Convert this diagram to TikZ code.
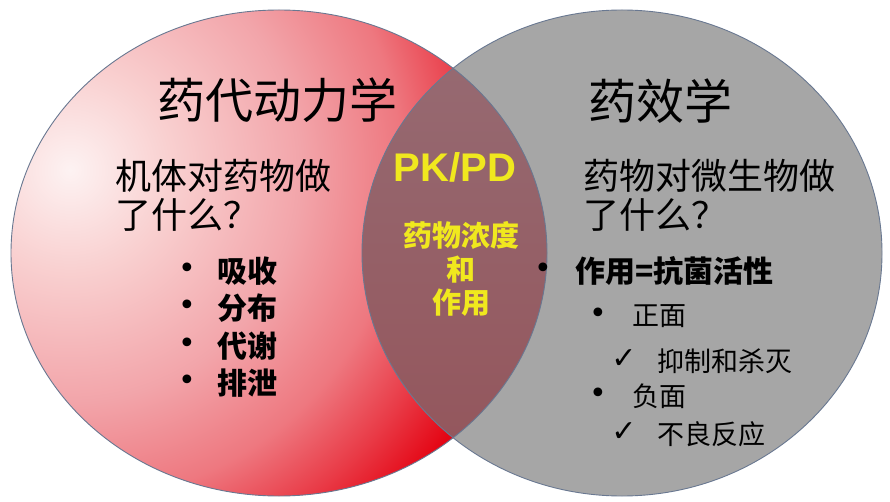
\documentclass[tikz,border=0pt]{standalone}
\usepackage{fontspec}
\setmainfont{Liberation Sans}
\newfontfamily\cjk{Noto Sans CJK SC}
\newfontfamily\sym{DejaVu Sans}
\definecolor{grayfill}{RGB}{166,166,166}
\definecolor{edgeline}{RGB}{105,120,145}
\definecolor{pkyellow}{RGB}{240,232,30}
\definecolor{ovtop}{RGB}{150,108,116}
\definecolor{ovbot}{RGB}{148,84,90}
\pgfdeclareradialshading{pkred}{\pgfpoint{0bp}{0bp}}{rgb(0bp)=(0.992,0.95,0.95); rgb(100bp)=(0.976,0.816,0.816); rgb(230bp)=(0.95,0.647,0.667); rgb(330bp)=(0.933,0.47,0.50); rgb(400bp)=(0.914,0.235,0.282); rgb(460bp)=(0.894,0.02,0.078); rgb(600bp)=(0.894,0.0,0.06)}
\tikzset{
  ttl/.style={inner sep=0pt, font=\cjk\fontsize{48}{52}\selectfont},
  sub/.style={inner sep=0pt, anchor=west, font=\cjk\fontsize{36}{39}\selectfont},
  itm/.style={inner sep=0pt, anchor=west, font=\cjk\bfseries\fontsize{30}{34}\selectfont},
  sitm/.style={inner sep=0pt, anchor=west, font=\cjk\fontsize{27}{30}\selectfont},
  bul/.style={inner sep=0pt, font=\sym\fontsize{30}{32}\selectfont},
  chk/.style={inner sep=0pt, font=\sym\bfseries\fontsize{30}{32}\selectfont},
  yel/.style={inner sep=0pt, text=pkyellow, font=\cjk\bfseries\fontsize{29}{32}\selectfont},
  outl/.style={draw=edgeline, line width=0.9pt}
}
\begin{document}
\begin{tikzpicture}[x=1pt,y=1pt]
\useasboundingbox (0,0) rectangle (890,-502);
\fill[white] (0,0) rectangle (890,-502);
% left ellipse with radial gradient
\begin{scope}
  \clip (279,-253) ellipse [x radius=268pt, y radius=243pt];
  \node[inner sep=0pt] (grad) at (70,-170) {\pgfuseshading{pkred}};
\end{scope}
% right ellipse
\fill[grayfill] (622,-253) ellipse [x radius=260pt, y radius=243pt];
% overlap
\begin{scope}
  \clip (279,-253) ellipse [x radius=268pt, y radius=243pt];
  \shade[top color=ovtop, bottom color=ovbot] (622,-253) ellipse [x radius=260pt, y radius=243pt];
\end{scope}
\draw[outl] (279,-253) ellipse [x radius=268pt, y radius=243pt];
\draw[outl] (622,-253) ellipse [x radius=260pt, y radius=243pt];

% titles
\node[ttl] (t1) at (277,-100) {药代动力学};
\node[ttl] (t2) at (660,-101) {药效学};
\node[sub] (s1a) at (115,-176) {机体对药物做};
\node[sub] (s1b) at (115,-215) {了什么？};
\node[sub] (s2a) at (583,-176) {药物对微生物做};
\node[sub] (s2b) at (583,-215) {了什么？};

% left list
\node[bul] (b1) at (187,-271) {•};
\node[itm] (l1) at (217,-271) {吸收};
\node[bul] (b2) at (187,-308) {•};
\node[itm] (l2) at (217,-308) {分布};
\node[bul] (b3) at (187,-346) {•};
\node[itm] (l3) at (217,-346) {代谢};
\node[bul] (b4) at (187,-383) {•};
\node[itm] (l4) at (217,-383) {排泄};

% right list
\node[bul] (rb1) at (543,-271) {•};
\node[itm] (r1) at (575,-271) {作用=抗菌活性};
\node[bul] (rb2) at (598,-316) {•};
\node[sitm] (r2) at (632,-316) {正面};
\node[chk] (rc1) at (624,-359) {✓};
\node[sitm] (r3) at (657,-361) {抑制和杀灭};
\node[bul] (rb3) at (598,-396) {•};
\node[sitm] (r4) at (632,-396) {负面};
\node[chk] (rc2) at (624,-432) {✓};
\node[sitm] (r5) at (657,-434) {不良反应};

% overlap
\node[inner sep=0pt, text=pkyellow, font=\bfseries\fontsize{40}{44}\selectfont] (pk) at (455,-167) {PK/PD};
\node[yel] (o1) at (461,-235) {药物浓度};
\node[yel] (o2) at (461,-270) {和};
\node[yel] (o3) at (461,-303) {作用};
\end{tikzpicture}
\end{document}
